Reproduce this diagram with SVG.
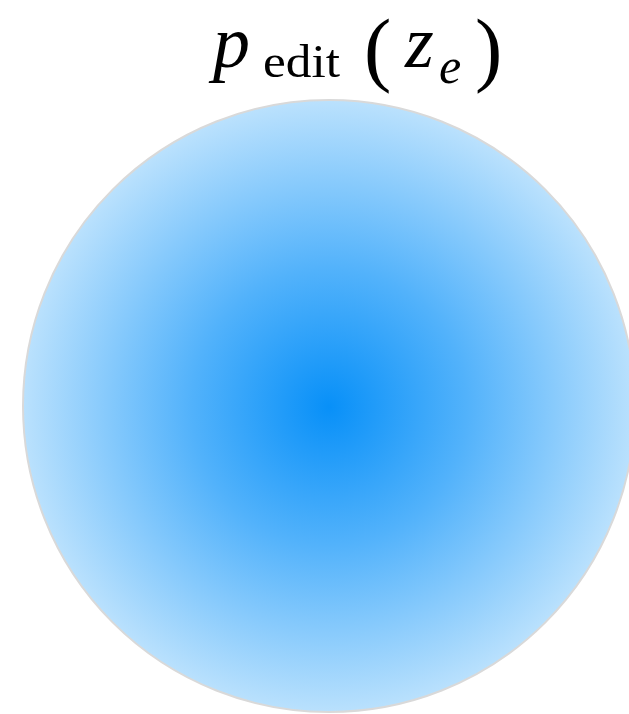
<svg xmlns="http://www.w3.org/2000/svg" width="629" height="714" viewBox="0 0 629 714">
  <defs>
    <radialGradient id="g" cx="329" cy="407" r="306" gradientUnits="userSpaceOnUse">
      <stop offset="0" stop-color="#0890f8"/>
      <stop offset="0.45" stop-color="#52b2fb"/>
      <stop offset="1" stop-color="#bae1fd"/>
    </radialGradient>
    <style>
      .m { font-family: "Liberation Serif", serif; fill: #000; }
      .it { font-style: italic; }
    </style>
  </defs>
  <rect width="629" height="714" fill="#fff"/>
  <g id="distribution">
    <circle cx="329" cy="406" r="306" fill="url(#g)" stroke="#d9d9d9" stroke-width="2"/>
  </g>
  <g id="title">
    <text class="m it" x="213" y="67" font-size="74">p</text>
    <text class="m" x="263" y="77" font-size="46" textLength="77" lengthAdjust="spacingAndGlyphs">edit</text>
    <text class="m" x="364" y="76" font-size="82">(</text>
    <text class="m it" x="405" y="67" font-size="74">z</text>
    <text class="m it" x="439" y="83" font-size="50">e</text>
    <text class="m" x="475" y="76" font-size="82">)</text>
  </g>
</svg>
